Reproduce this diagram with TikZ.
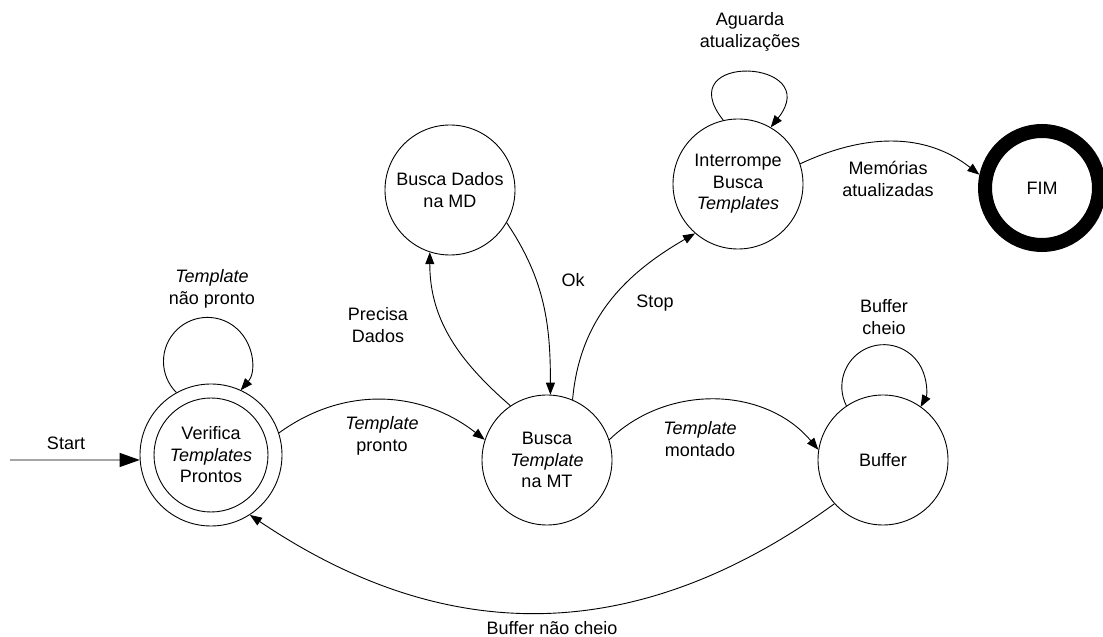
\documentclass[tikz,border=0pt]{standalone}
\usepackage{fontspec}
\setmainfont{Liberation Sans}
\usetikzlibrary{arrows.meta}
\begin{document}
\begin{tikzpicture}[x=1pt,y=1pt,
  every node/.style={font=\fontsize{18}{21.5}\selectfont, align=center},
  state/.style={draw, circle, line width=0.9pt, minimum size=130pt, inner sep=0pt},
  trans/.style={draw, line width=0.9pt, -{Triangle[length=12pt,width=9pt]}},
  bigtip/.style={-{Triangle[length=20pt,width=14pt]}},
  lbl/.style={inner sep=0pt}]
\useasboundingbox (0,0) rectangle (1103,637);

% states
\node[state, minimum size=142pt] (V) at (211,182) {Verifica\\\textit{Templates}\\Prontos};
\draw[line width=0.9pt] (V.center) circle[radius=57];
\node[state] (MT) at (547,177) {Busca\\\textit{Template}\\na MT};
\node[state] (B) at (883,177) {Buffer};
\node[state] (D) at (450,447) {Busca Dados\\na MD};
\node[state] (I) at (738,453) {Interrompe\\Busca\\\textit{Templates}};
\node[state, line width=14pt, minimum size=114pt] (F) at (1042,449) {FIM};

% initial arrow
\coordinate (s0) at (10,177);
\draw[trans, bigtip] (s0) -- (V.184);
\node[lbl] (lStart) at (66,194) {Start};

% transitions
\draw[trans] (V.18) to[out=36,in=142] (MT.162);
\node[lbl] (lPronto) at (382,201) {\textit{Template}\\pronto};

\draw[trans] (MT.18) to[out=44,in=130] (B.171);
\node[lbl] (lMontado) at (700,198) {\textit{Template}\\montado};

\draw[trans] (B.222) to[out=216,in=-34,looseness=1.05] (V.303);
\node[lbl] (lNaoCheio) at (552,9) {Buffer não cheio};

\draw[trans] (V.119) arc[start angle=225,end angle=-41,radius=44];
\node[lbl] (lNaoPronto) at (212,348) {\textit{Template}\\não pronto};

\draw[trans] (B.124) arc[start angle=207,end angle=-29,radius=42];
\node[lbl] (lCheio) at (884,320) {Buffer\\cheio};

\draw[trans] (MT.124) to[out=139,in=270] (D.252);
\node[lbl] (lPrecisa) at (378,312) {Precisa\\Dados};

\draw[trans] (D.330) to[out=-56,in=90] (MT.87);
\node[lbl] (lOk) at (573,357) {Ok};

\draw[trans] (MT.67) to[out=85,in=210] (I.229);
\node[lbl] (lStop) at (655,334) {Stop};

\draw[trans] (I.103) .. controls +(128.6:88) and +(51.4:88) .. (I.60);
\node[lbl] (lAguarda) at (750,605) {Aguarda\\atualizações};

\draw[trans] (I.18) to[out=25,in=142] (F.168);
\node[lbl] (lMem) at (888,458) {Memórias\\atualizadas};
\end{tikzpicture}
\end{document}
